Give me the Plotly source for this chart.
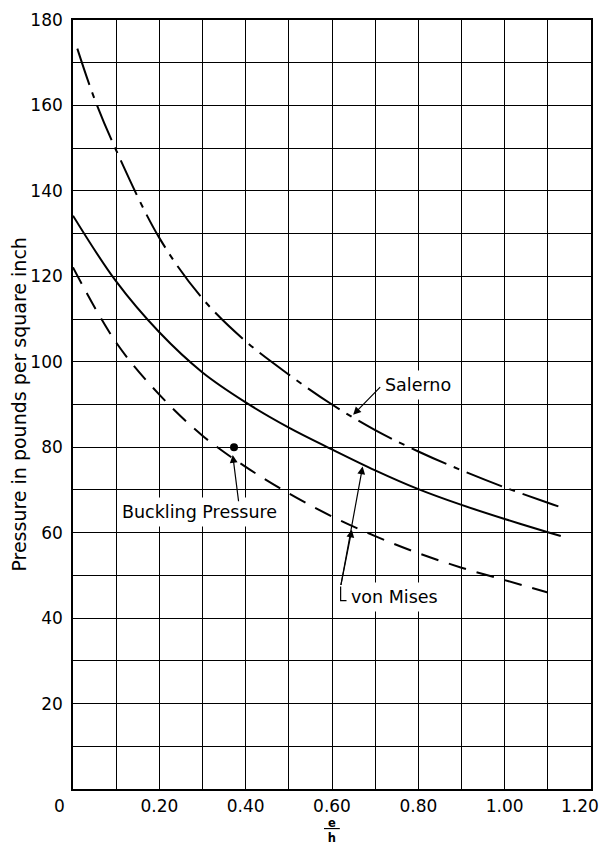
import plotly.graph_objects as go

# e/h ratio sample points and pressures (psi) for each curve
salerno_x = [0.01, 0.05, 0.10, 0.20, 0.30, 0.40, 0.50, 0.60, 0.70, 0.80, 0.90, 1.00, 1.10, 1.135]
salerno_y = [173.3, 161.5, 149.5, 129.0, 114.8, 104.8, 97.0, 90.0, 84.0, 79.0, 74.6, 70.6, 67.0, 65.8]

von_mises_x = [0.0, 0.10, 0.20, 0.30, 0.40, 0.50, 0.60, 0.70, 0.80, 0.90, 1.00, 1.10, 1.13]
von_mises_y = [134.2, 118.8, 106.9, 97.5, 90.5, 84.6, 79.5, 74.6, 70.2, 66.5, 63.2, 60.1, 59.2]

lower_x = [0.0, 0.10, 0.20, 0.30, 0.40, 0.50, 0.60, 0.70, 0.80, 0.90, 1.00, 1.10]
lower_y = [122.1, 104.5, 92.3, 82.7, 75.4, 69.2, 63.8, 59.2, 55.2, 51.8, 48.9, 46.0]

buckling_x = [0.373]
buckling_y = [80.0]

x_grid = [round(0.1 * i, 1) for i in range(13)]
x_labels = ["", "", "0.20", "", "0.40", "", "0.60", "", "0.80", "", "1.00", "", ""]
y_grid = list(range(0, 190, 10))
y_labels = [str(v) if v % 20 == 0 and v > 0 else "" for v in y_grid]

FONT = "DejaVu Sans"
tick_font = dict(family=FONT, size=17, color="black")

fig = go.Figure()

fig.add_trace(go.Scatter(
    x=salerno_x, y=salerno_y, mode="lines", line_shape="spline",
    line=dict(color="black", width=2, dash="38px,8px,6px,8px"),
    showlegend=False, hoverinfo="skip"))
fig.add_trace(go.Scatter(
    x=von_mises_x, y=von_mises_y, mode="lines", line_shape="spline",
    line=dict(color="black", width=2),
    showlegend=False, hoverinfo="skip"))
fig.add_trace(go.Scatter(
    x=lower_x, y=lower_y, mode="lines", line_shape="spline",
    line=dict(color="black", width=2, dash="18px,11px"),
    showlegend=False, hoverinfo="skip"))
fig.add_trace(go.Scatter(
    x=buckling_x, y=buckling_y, mode="markers",
    marker=dict(color="black", size=8),
    showlegend=False, hoverinfo="skip"))

label_font = dict(family=FONT, size=17.5, color="black")
arrow_style = dict(showarrow=True, arrowhead=2, arrowsize=1.3, arrowwidth=1.2,
                   arrowcolor="black", axref="x", ayref="y", text="")

annotations = [
    # curve labels
    dict(x=0.80, y=94.6, text="Salerno", showarrow=False, font=label_font,
         bgcolor="white", borderpad=4),
    dict(x=0.292, y=64.9, text="Buckling Pressure", showarrow=False, font=label_font,
         bgcolor="white", borderpad=4),
    dict(x=0.745, y=45.0, text="von Mises", showarrow=False, font=label_font,
         bgcolor="white", borderpad=4),
    # leader arrows
    dict(x=0.649, y=87.6, ax=0.715, ay=94.4, **arrow_style),
    dict(x=0.370, y=78.2, ax=0.384, ay=67.0, **arrow_style),
    dict(x=0.646, y=60.7, ax=0.620, ay=47.4, **arrow_style),
    dict(x=0.671, y=75.5, ax=0.620, ay=47.4, **arrow_style),
    # shared origin label, last x label, axis titles
    dict(x=-0.027, y=-0.0221, xref="paper", yref="paper", text="0", showarrow=False,
         xanchor="center", yanchor="middle", font=tick_font),
    dict(x=1.019, y=-0.0221, xref="paper", yref="paper", text="1.20", showarrow=False,
         xanchor="right", yanchor="middle", font=tick_font),
    dict(x=0.5, y=-0.0535, xref="paper", yref="paper",
         text="<b><u>\u00a0e\u00a0</u></b><br><b>h</b>", showarrow=False,
         xanchor="center", yanchor="middle", font=dict(family=FONT, size=11.5, color="black")),
    dict(x=-0.106, y=0.5, xref="paper", yref="paper", text="Pressure in pounds per square inch",
         showarrow=False, textangle=-90, xanchor="center", yanchor="middle",
         font=dict(family=FONT, size=19, color="black")),
]

# corner of the von Mises leader
fig.add_shape(type="path", path="M 0.620 47.4 L 0.620 44.1 L 0.640 44.1",
              xref="x", yref="y", line=dict(color="black", width=1.2))

fig.update_layout(
    width=603, height=846,
    margin=dict(l=73, r=12, t=20, b=57),
    paper_bgcolor="white", plot_bgcolor="white",
    font=dict(family=FONT, color="black"),
    annotations=annotations,
    xaxis=dict(
        range=[0, 1.2], tickvals=x_grid, ticktext=x_labels, automargin=False,
        showgrid=True, gridcolor="black", gridwidth=1.3, zeroline=False,
        showline=True, mirror=True, linecolor="black", linewidth=1.6,
        ticks="", ticklabelstandoff=1, tickfont=tick_font,
    ),
    yaxis=dict(
        range=[0, 180], tickvals=y_grid, ticktext=y_labels, automargin=False,
        showgrid=True, gridcolor="black", gridwidth=1.3, zeroline=False,
        showline=True, mirror=True, linecolor="black", linewidth=1.6,
        ticks="", ticklabelstandoff=5, tickfont=tick_font,
    ),
)

fig.write_html("out.html")
